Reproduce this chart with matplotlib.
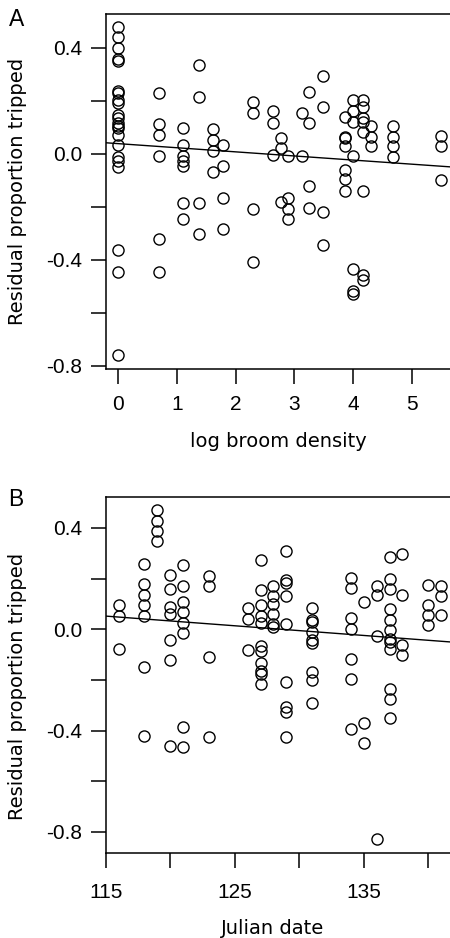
import matplotlib
matplotlib.use("Agg")
import matplotlib.pyplot as plt
import numpy as np

# ---------------- Panel A data: log broom density ----------------
a_x_cols = [0.0, 0.693, 1.099, 1.386, 1.609, 1.792, 2.303, 2.639, 2.773, 2.890,
            3.124, 3.254, 3.480, 3.860, 4.000, 4.170, 4.310, 4.670, 5.490]
a_y_cols = [
    [0.48, 0.44, 0.40, 0.357, 0.351, 0.239, 0.231, 0.204, 0.191, 0.147, 0.135,
     0.116, 0.106, 0.097, 0.072, 0.034, -0.012, -0.025, -0.048, -0.362, -0.444, -0.761],
    [0.231, 0.113, 0.072, -0.008, -0.322, -0.444],
    [0.097, 0.034, -0.008, -0.025, -0.045, -0.186, -0.247],
    [0.336, 0.216, -0.184, -0.303],
    [0.093, 0.053, 0.012, -0.067],
    [0.034, -0.045, -0.167, -0.284],
    [0.194, 0.154, -0.209, -0.408],
    [0.160, 0.118, -0.004],
    [0.059, 0.021, -0.182],
    [-0.008, -0.167, -0.209, -0.247],
    [0.154, -0.008],
    [0.235, 0.116, -0.123, -0.205],
    [0.294, 0.178, -0.221, -0.343],
    [0.141, 0.065, 0.059, 0.028, -0.060, -0.096, -0.140],
    [0.204, 0.160, 0.122, -0.008, -0.435, -0.519, -0.528],
    [0.204, 0.178, 0.135, 0.122, 0.084, -0.142, -0.457, -0.475],
    [0.106, 0.065, 0.028],
    [0.106, 0.065, 0.028, -0.012],
    [0.068, 0.028, -0.098],
]
lineA_x = [-0.21, 5.65]
lineA_y = [0.042, -0.049]

# ---------------- Panel B data: Julian date ----------------
b_x_cols = [116, 118, 119, 120, 121, 123, 126, 127, 128, 129, 131, 134, 135, 136,
            137, 138, 140, 141]
b_y_cols = [
    [0.095, 0.051, -0.076],
    [0.256, 0.178, 0.134, 0.095, 0.051, -0.149, -0.422],
    [0.469, 0.427, 0.388, 0.348],
    [0.213, 0.160, 0.088, 0.062, -0.041, -0.120, -0.462],
    [0.252, 0.170, 0.108, 0.068, 0.025, -0.013, -0.385, -0.464],
    [0.209, 0.170, -0.109, -0.427],
    [0.082, 0.042, -0.080],
    [0.272, 0.154, 0.095, 0.051, 0.025, -0.067, -0.086, -0.133, -0.164, -0.178, -0.217],
    [0.170, 0.130, 0.101, 0.059, 0.020, 0.009],
    [0.309, 0.193, 0.183, 0.130, 0.022, -0.208, -0.306, -0.326, -0.427],
    [0.082, 0.038, 0.029, -0.011, -0.041, -0.054, -0.168, -0.199, -0.291],
    [0.204, 0.164, 0.046, 0.003, -0.116, -0.195, -0.392],
    [0.108, -0.370, -0.449],
    [0.170, 0.134, -0.028, -0.826],
    [0.285, 0.200, 0.160, 0.080, 0.038, -0.001, -0.037, -0.050, -0.076, -0.234, -0.277, -0.352],
    [0.296, 0.134, -0.063, -0.103],
    [0.174, 0.097, 0.055, 0.016],
    [0.170, 0.130, 0.055],
]
lineB_x = [115, 141.7]
lineB_y = [0.052, -0.050]

yticks = [-0.8, -0.6, -0.4, -0.2, 0.0, 0.2, 0.4]
ytick_labels = ["-0.8", "", "-0.4", "", "0.0", "", "0.4"]
a_xticks = [0, 1, 2, 3, 4, 5]
a_xtick_labels = ["0", "1", "2", "3", "4", "5"]
b_xticks = [115, 120, 125, 130, 135, 140]
b_xtick_labels = ["115", "", "125", "", "135", ""]

ylabel = "Residual proportion tripped"


def expand(xc, yc):
    xs, ys = [], []
    for x, col in zip(xc, yc):
        xs.extend([x] * len(col))
        ys.extend(col)
    return np.array(xs), np.array(ys)


W, H = 450, 938
fig = plt.figure(figsize=(W / 100, H / 100), dpi=100)
left = 105.7 / W
width = (W - 105.7) / W
axA = fig.add_axes([left, 1 - 369 / H, width, (369 - 14) / H])
axB = fig.add_axes([left, 1 - 853 / H, width, (853 - 497) / H])

tickfont = dict(family="Liberation Sans", size=15)


def style(ax, xpad):
    ax.spines["right"].set_visible(False)
    for s in ("left", "bottom", "top"):
        ax.spines[s].set_linewidth(1.1)
    ax.tick_params(direction="out", length=10.8, width=1.1, color="black")
    ax.tick_params(axis="y", pad=6.0)
    ax.tick_params(axis="x", pad=xpad)
    ax.set_yticks(yticks)
    ax.set_yticklabels(ytick_labels, **tickfont)


xa, ya = expand(a_x_cols, a_y_cols)
axA.plot(lineA_x, lineA_y, color="black", lw=1.0, zorder=2)
axA.plot(xa, ya, linestyle="none", marker="o", markersize=8, mfc="none",
         mec="black", mew=1.0, zorder=3, clip_on=False)
axA.set_xlim(-0.209, (W - 118) / 58.8)
axA.set_ylim(-0.812, 0.528)
style(axA, 8.0)
axA.set_xticks(a_xticks)
axA.set_xticklabels(a_xtick_labels, **tickfont)

xb, yb = expand(b_x_cols, b_y_cols)
axB.plot(lineB_x, lineB_y, color="black", lw=1.0, zorder=2)
axB.plot(xb, yb, linestyle="none", marker="o", markersize=8, mfc="none",
         mec="black", mew=1.0, zorder=3, clip_on=False)
axB.set_xlim(115, 115 + (W - 105.7) / 12.9)
axB.set_ylim(-0.883, 0.522)
style(axB, 10.5)
axB.set_xticks(b_xticks)
axB.set_xticklabels(b_xtick_labels, **tickfont)

labfont = dict(family="DejaVu Sans", size=14)
fig.text(17.5 / W, 1 - 191.5 / H, ylabel, rotation=90, ha="center", va="center", **labfont)
fig.text(17.5 / W, 1 - 686 / H, ylabel, rotation=90, ha="center", va="center", **labfont)
fig.text(278 / W, 1 - 447 / H, "log broom density", ha="center", va="baseline", **labfont)
fig.text(273 / W, 1 - 934 / H, "Julian date", ha="center", va="baseline", **labfont)

fig.text(17 / W, 1 - 26 / H, "A", ha="center", va="baseline", family="Liberation Sans", size=16.5)
fig.text(16 / W, 1 - 506 / H, "B", ha="center", va="baseline", family="Liberation Sans", size=16.5)

fig.savefig("out.png", dpi=100)
